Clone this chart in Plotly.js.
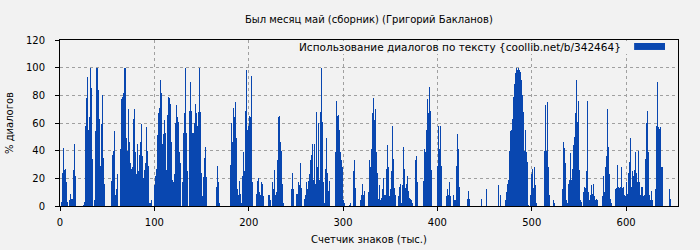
<!DOCTYPE html>
<html>
<head>
<meta charset="utf-8">
<script src="https://cdn.plot.ly/plotly-3.0.1.min.js"></script>
<style>html,body{margin:0;padding:0;background:#f2f2f2;}</style>
</head>
<body>
<div id="chart" style="width:700px;height:250px;"></div>
<script>
// Share of dialogue (%) per text chunk
const seg1 = [3,24,42,26,27,17,3,0,4,9,5,5,26,45,22,
  0,0,0,0,0,0,0,
  1,3,58,78,93,55,64,100,85,34,0,4,54,100,100,84,63,29,59,80,35,16,
  0,0,0,0,0,0,
  18,37,40,54,8,12,23,0,0,41,77,79,82,100,100,49,40];
const seg2 = [70,46,31,27,28,63,70,39,23,45, 25,37,46,59,36,20,26,31,57,40,
  29,2,2,4,0,0,15,22,27,51, 67,71,91,82,45,52,62,53,26,66,
  79,78,74,46,19,17,23,60,73,64, 61,39,31,0,17,53,67,100,53,25,
  0,69,90,69,53,53,60,74,67,58];
const seg3 = [68,100,68,24,7,21,35,43,21,0, 0,0,0,0,0,0,0,0,14,29,
  17,2,0,0,0,0,0,0,0,0, 0,0,30,60,46,71,64,75,49,12,
  8,18,9,2,22,39,25,69,98,55, 58,65,64,94,17,0,0,0,9,18,
  20,10,8,17,16,7,0,0,0,0];
const seg4 = [8,8,4,0,17,12,26,8,10,33, 64,65,46,40,16,2,0,0,0,0,
  0,0,0,12,24,12,0,0,9,9, 17,15,31,13,0,0,5,8,17,12,
  18,23,33,37,45,19,45,16,68,28, 60,19,68,100,61,17,2,27,49,24,
  11,18,0,0,0,0,0,39,76,65];
const seg5 = [66,55,39,33,28,4,2,0,0,0, 0,1,2,0,0,25,33,13,0,0,
  0,0,4,8,16,8,11,0,0,0, 10,33,28,41,67,78,62,70,39,24,
  5,15,4,6,12,20,8,8,27,44, 28,7,12,25,58,34,13,8,0,0,
  7,14,16,2,15,43,27,13,16,22];
const seg6 = [11,6,5,4,2,0,0,33,36,17, 0,0,0,0,0,18,41,39,55,77,
  67,86,69,26,0,0,0,0,0,29, 58,41,58,29,0,0,0,0,7,12,
  8,17,7,0,0,8,4,4,29,52, 41,14,0,0,0,0,0,0,0,5,
  11,5,0,0,0,0,0,0,0,0];
const seg7 = [0,0,0,5,0,0,0,0,12,0, 0,0,0,0,0,0,0,0,0,0,
  15,0,8,0,0,0,0,4,10,16, 19,40,54,55,63,79,88,96,100,98,
  100,98,97,91,80,68,40,55,39,32, 1,0,8,23,27,13,28,15,2,0,
  0,0,0,0,0,0,40,73,40,75];
const seg8 = [28,8,0,0,0,4,2,0,0,0, 0,0,0,0,12,46,42,31,4,2,
  16,19,38,19,27,44,50,67,91,61, 76,26,4,3,0,10,14,13,25,76,
  10,4,8,15,9,16,7,4,5,4, 0,0,0,0,7,22,10,28,36,70,
  43,23,5,2,0,0,0,12,13,30];
const seg9 = [14,13,14,28,13,14,8,7,17,9, 24,32,49,14,25,22,26,39,24,17,
  40,17,8,14,14,7,8,34,60,69, 39,8,4,11,4,0,0,12,58,90,
  57,56,57,28,28,0,0,0,0,0, 0,12,5];

const dialogShare = [].concat(seg1, seg2, seg3, seg4, seg5, seg6, seg7, seg8, seg9);
const chunkStep = 1.06; // thousand characters per chunk
const charCounter = dialogShare.map((v, i) => (i + 1) * chunkStep);

const xTicks = [0, 100, 200, 300, 400, 500, 600];
const yTicks = [0, 20, 40, 60, 80, 100, 120];

const titleText = 'Был месяц май (сборник) (Григорий Бакланов)';
const xTitle = 'Счетчик знаков (тыс.)';
const yTitle = '% диалогов';
const seriesName = 'Использование диалогов по тексту {coollib.net/b/342464}';

const barColor = '#0947b0';
const font = 'DejaVu Sans, Verdana, sans-serif';

const trace = {
  type: 'bar',
  x: charCounter,
  y: dialogShare,
  width: chunkStep,
  name: seriesName,
  marker: {color: barColor, line: {width: 0}},
  hoverinfo: 'x+y'
};

const axisCommon = {
  showline: true, mirror: true, linecolor: '#000', linewidth: 1,
  ticks: 'outside', ticklen: 4, tickcolor: '#000',
  showgrid: true, gridcolor: '#a0a0a0', griddash: 'dot', gridwidth: 1,
  zeroline: false,
  tickfont: {family: font, size: 10, color: '#000'}
};

const layout = {
  width: 700, height: 250,
  paper_bgcolor: '#f2f2f2', plot_bgcolor: '#f2f2f2',
  margin: {l: 60, r: 22, t: 40, b: 44},
  font: {family: font, size: 10, color: '#000'},
  showlegend: false,
  bargap: 0,
  title: {text: titleText, font: {family: font, size: 10, color: '#000'},
          x: 0.527, xanchor: 'center', y: 0.924, yanchor: 'middle'},
  xaxis: Object.assign({}, axisCommon, {
    range: [0, 655], tickvals: xTicks, ticktext: xTicks.map(String),
    ticklabelstandoff: 3,
    title: {text: xTitle, font: {family: font, size: 10, color: '#000'}, standoff: 8}
  }),
  yaxis: Object.assign({}, axisCommon, {
    range: [0, 120], tickvals: yTicks, ticktext: yTicks.map(String),
    ticklabelstandoff: 8,
    title: {text: yTitle, font: {family: font, size: 10, color: '#000'}, standoff: 10}
  }),
  shapes: [
    {type: 'rect', xref: 'paper', yref: 'paper', x0: 0.385, x1: 0.997, y0: 0.916, y1: 0.994,
     fillcolor: '#f2f2f2', line: {width: 0}, layer: 'above'},
    {type: 'rect', xref: 'paper', yref: 'paper', x0: 0.929, x1: 0.979, y0: 0.94, y1: 0.982,
     fillcolor: barColor, line: {width: 0}, layer: 'above'}
  ],
  annotations: [
    {xref: 'paper', yref: 'paper', x: 0.911, y: 0.958, xanchor: 'right', yanchor: 'middle',
     text: seriesName, showarrow: false, font: {family: font, size: 10.5, color: '#000'}}
  ]
};

Plotly.newPlot('chart', [trace], layout, {displayModeBar: false, staticPlot: true});
</script>
</body>
</html>
